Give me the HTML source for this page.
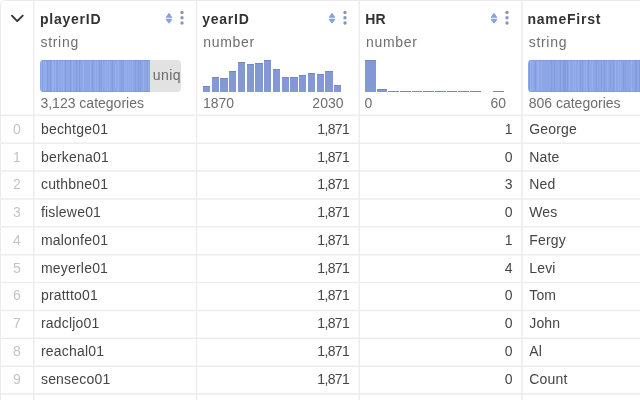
<!DOCTYPE html>
<html><head><meta charset="utf-8">
<style>
html,body{margin:0;padding:0;background:#fff;width:640px;height:400px;overflow:hidden;}
body{font-family:"Liberation Sans",sans-serif;font-size:14px;position:relative;}
#w{position:absolute;left:0;top:0;width:640px;height:400px;will-change:transform;}
.a{position:absolute;}
.t{position:absolute;white-space:nowrap;line-height:16px;}
.name{font-weight:bold;color:#333;letter-spacing:0.75px;}
.type{color:#6e6e6e;letter-spacing:0.7px;}
.sum{color:#6e6e6e;}
.cell{color:#454545;letter-spacing:0.2px;}
.idx{color:#c4c4c4;text-align:center;width:34px;left:0;}
.num{color:#454545;text-align:right;letter-spacing:-0.6px;}
.bar{position:absolute;background:#8299d6;box-shadow:inset 0 1px 0 #7687c0;}
.cat{position:absolute;border-radius:4px;overflow:hidden;}
</style></head><body><div id="w">
<div class="a" style="left:0;top:0;width:700px;height:500px;border-left:1px solid #ebebeb;border-top:1px solid #ebebeb;border-top-left-radius:5px;box-sizing:border-box;"></div>
<svg class="a" style="left:0;top:0" width="640" height="400" viewBox="0 0 640 400"><line x1="33.75" y1="0" x2="33.75" y2="400" stroke="#ededed" stroke-width="1.5"/><line x1="196.50" y1="0" x2="196.50" y2="400" stroke="#ededed" stroke-width="1.5"/><line x1="359.25" y1="0" x2="359.25" y2="400" stroke="#ededed" stroke-width="1.5"/><line x1="522.00" y1="0" x2="522.00" y2="400" stroke="#ededed" stroke-width="1.5"/><line x1="0" y1="115.30" x2="640" y2="115.30" stroke="#ededed" stroke-width="1.5"/><line x1="0" y1="143.17" x2="640" y2="143.17" stroke="#ededed" stroke-width="1.5"/><line x1="0" y1="171.04" x2="640" y2="171.04" stroke="#ededed" stroke-width="1.5"/><line x1="0" y1="198.91" x2="640" y2="198.91" stroke="#ededed" stroke-width="1.5"/><line x1="0" y1="226.78" x2="640" y2="226.78" stroke="#ededed" stroke-width="1.5"/><line x1="0" y1="254.65" x2="640" y2="254.65" stroke="#ededed" stroke-width="1.5"/><line x1="0" y1="282.52" x2="640" y2="282.52" stroke="#ededed" stroke-width="1.5"/><line x1="0" y1="310.39" x2="640" y2="310.39" stroke="#ededed" stroke-width="1.5"/><line x1="0" y1="338.26" x2="640" y2="338.26" stroke="#ededed" stroke-width="1.5"/><line x1="0" y1="366.13" x2="640" y2="366.13" stroke="#ededed" stroke-width="1.5"/><line x1="0" y1="394.00" x2="640" y2="394.00" stroke="#ededed" stroke-width="1.5"/></svg>
<svg class="a" style="left:0;top:0" width="34" height="40" viewBox="0 0 34 40"><path d="M11.9 15.7 L17.25 21.05 L22.7 15.6" fill="none" stroke="#333" stroke-width="1.9" stroke-linecap="round" stroke-linejoin="round"/></svg>
<div class="t name" style="left:40.00px;top:10.9px;letter-spacing:0.75px">playerID</div>
<div class="t type" style="left:40.45px;top:33.6px">string</div>
<svg class="a" style="left:164.90px;top:10px" width="8" height="16" viewBox="0 0 8 16"><path d="M4 3.6 L6.6 7.2 L1.4 7.2 Z M1.4 9.4 L6.6 9.4 L4 12.9 Z" fill="#86a2e3" stroke="#86a2e3" stroke-width="1.1" stroke-linejoin="round"/></svg>
<svg class="a" style="left:178.90px;top:8px" width="6" height="20" viewBox="0 0 6 20"><circle cx="3" cy="4.5" r="1.7" fill="#8c95b0"/><circle cx="3" cy="9.75" r="1.7" fill="#8797c8"/><circle cx="3" cy="15" r="1.7" fill="#8c95b0"/></svg>
<div class="t name" style="left:202.20px;top:10.9px;letter-spacing:0.75px">yearID</div>
<div class="t type" style="left:203.20px;top:33.6px">number</div>
<svg class="a" style="left:327.65px;top:10px" width="8" height="16" viewBox="0 0 8 16"><path d="M4 3.6 L6.6 7.2 L1.4 7.2 Z M1.4 9.4 L6.6 9.4 L4 12.9 Z" fill="#86a2e3" stroke="#86a2e3" stroke-width="1.1" stroke-linejoin="round"/></svg>
<svg class="a" style="left:341.65px;top:8px" width="6" height="20" viewBox="0 0 6 20"><circle cx="3" cy="4.5" r="1.7" fill="#8c95b0"/><circle cx="3" cy="9.75" r="1.7" fill="#8797c8"/><circle cx="3" cy="15" r="1.7" fill="#8c95b0"/></svg>
<div class="t name" style="left:365.20px;top:10.9px;letter-spacing:0.2px">HR</div>
<div class="t type" style="left:365.95px;top:33.6px">number</div>
<svg class="a" style="left:490.40px;top:10px" width="8" height="16" viewBox="0 0 8 16"><path d="M4 3.6 L6.6 7.2 L1.4 7.2 Z M1.4 9.4 L6.6 9.4 L4 12.9 Z" fill="#86a2e3" stroke="#86a2e3" stroke-width="1.1" stroke-linejoin="round"/></svg>
<svg class="a" style="left:504.40px;top:8px" width="6" height="20" viewBox="0 0 6 20"><circle cx="3" cy="4.5" r="1.7" fill="#8c95b0"/><circle cx="3" cy="9.75" r="1.7" fill="#8797c8"/><circle cx="3" cy="15" r="1.7" fill="#8c95b0"/></svg>
<div class="t name" style="left:527.50px;top:10.9px;letter-spacing:0.75px">nameFirst</div>
<div class="t type" style="left:528.70px;top:33.6px">string</div>
<div class="cat" style="left:40px;top:59.6px;width:141px;height:32px;background:#e2e2e2"><svg class="a" style="left:0;top:0" width="110" height="32" viewBox="0 0 110 32" shape-rendering="crispEdges"><rect width="110" height="32" fill="#8ca6e6"/><rect x="0.5" y="0" width="1" height="32" fill="#9db6f5" opacity="0.55"/><rect x="2.0" y="0" width="1" height="32" fill="#7b93d3" opacity="0.55"/><rect x="3.0" y="0" width="1" height="32" fill="#9db6f5" opacity="0.55"/><rect x="5.0" y="0" width="1" height="32" fill="#9db6f5" opacity="0.55"/><rect x="7.0" y="0" width="1" height="32" fill="#7b93d3" opacity="0.55"/><rect x="9.5" y="0" width="1" height="32" fill="#7b93d3" opacity="0.55"/><rect x="11.5" y="0" width="1" height="32" fill="#9db6f5" opacity="0.55"/><rect x="12.5" y="0" width="1" height="32" fill="#9db6f5" opacity="0.55"/><rect x="14.5" y="0" width="1" height="32" fill="#9db6f5" opacity="0.55"/><rect x="17.0" y="0" width="1" height="32" fill="#7b93d3" opacity="0.55"/><rect x="18.0" y="0" width="1" height="32" fill="#9db6f5" opacity="0.55"/><rect x="21.0" y="0" width="1" height="32" fill="#9db6f5" opacity="0.55"/><rect x="23.0" y="0" width="1" height="32" fill="#9db6f5" opacity="0.55"/><rect x="25.0" y="0" width="1" height="32" fill="#7b93d3" opacity="0.55"/><rect x="29.5" y="0" width="1" height="32" fill="#7b93d3" opacity="0.55"/><rect x="32.0" y="0" width="1" height="32" fill="#9db6f5" opacity="0.55"/><rect x="35.5" y="0" width="1" height="32" fill="#7b93d3" opacity="0.55"/><rect x="39.0" y="0" width="1" height="32" fill="#7b93d3" opacity="0.55"/><rect x="43.0" y="0" width="1" height="32" fill="#9db6f5" opacity="0.55"/><rect x="49.5" y="0" width="1" height="32" fill="#9db6f5" opacity="0.55"/><rect x="51.5" y="0" width="1" height="32" fill="#7b93d3" opacity="0.55"/><rect x="54.5" y="0" width="1" height="32" fill="#9db6f5" opacity="0.55"/><rect x="56.5" y="0" width="1" height="32" fill="#9db6f5" opacity="0.55"/><rect x="58.5" y="0" width="1" height="32" fill="#7b93d3" opacity="0.55"/><rect x="61.0" y="0" width="1" height="32" fill="#7b93d3" opacity="0.55"/><rect x="62.0" y="0" width="1" height="32" fill="#9db6f5" opacity="0.55"/><rect x="65.0" y="0" width="1" height="32" fill="#9db6f5" opacity="0.55"/><rect x="67.0" y="0" width="1" height="32" fill="#9db6f5" opacity="0.55"/><rect x="69.0" y="0" width="1" height="32" fill="#9db6f5" opacity="0.55"/><rect x="72.0" y="0" width="1" height="32" fill="#7b93d3" opacity="0.55"/><rect x="75.0" y="0" width="1" height="32" fill="#9db6f5" opacity="0.55"/><rect x="77.0" y="0" width="1" height="32" fill="#9db6f5" opacity="0.55"/><rect x="78.0" y="0" width="1" height="32" fill="#9db6f5" opacity="0.55"/><rect x="80.5" y="0" width="1" height="32" fill="#7b93d3" opacity="0.55"/><rect x="82.5" y="0" width="1" height="32" fill="#7b93d3" opacity="0.55"/><rect x="83.5" y="0" width="1" height="32" fill="#9db6f5" opacity="0.55"/><rect x="85.5" y="0" width="1" height="32" fill="#9db6f5" opacity="0.55"/><rect x="88.0" y="0" width="1" height="32" fill="#9db6f5" opacity="0.55"/><rect x="90.0" y="0" width="1" height="32" fill="#9db6f5" opacity="0.55"/><rect x="91.5" y="0" width="1" height="32" fill="#9db6f5" opacity="0.55"/><rect x="95.0" y="0" width="1" height="32" fill="#7b93d3" opacity="0.55"/><rect x="97.5" y="0" width="1" height="32" fill="#7b93d3" opacity="0.55"/><rect x="100.0" y="0" width="1" height="32" fill="#7b93d3" opacity="0.55"/><rect x="102.5" y="0" width="1" height="32" fill="#9db6f5" opacity="0.55"/><rect x="107.0" y="0" width="1" height="32" fill="#7b93d3" opacity="0.55"/><rect x="108.0" y="0" width="1" height="32" fill="#9db6f5" opacity="0.55"/><rect x="0" y="0" width="110" height="1" fill="#7b90cc" opacity="0.5"/><rect x="0" y="31" width="110" height="1" fill="#7b90cc" opacity="0.5"/></svg></div>
<div class="t sum" style="left:152.7px;top:66.8px;color:#6a6a6a;letter-spacing:0.5px">uniq</div>
<div class="t sum" style="left:40.45px;top:95.0px">3,123 categories</div>
<div class="bar" style="left:202.75px;top:86px;width:7.3px;height:5.90px"></div>
<div class="bar" style="left:211.50px;top:76.5px;width:7.3px;height:15.40px"></div>
<div class="bar" style="left:220.25px;top:77.9px;width:7.3px;height:14.00px"></div>
<div class="bar" style="left:229.00px;top:70.6px;width:7.3px;height:21.30px"></div>
<div class="bar" style="left:237.75px;top:61.9px;width:7.3px;height:30.00px"></div>
<div class="bar" style="left:246.50px;top:64px;width:7.3px;height:27.90px"></div>
<div class="bar" style="left:255.25px;top:62.9px;width:7.3px;height:29.00px"></div>
<div class="bar" style="left:264.00px;top:60px;width:7.3px;height:31.90px"></div>
<div class="bar" style="left:272.75px;top:69.4px;width:7.3px;height:22.50px"></div>
<div class="bar" style="left:281.50px;top:76.9px;width:7.3px;height:15.00px"></div>
<div class="bar" style="left:290.25px;top:76.5px;width:7.3px;height:15.40px"></div>
<div class="bar" style="left:299.00px;top:75px;width:7.3px;height:16.90px"></div>
<div class="bar" style="left:307.75px;top:73.1px;width:7.3px;height:18.80px"></div>
<div class="bar" style="left:316.50px;top:74px;width:7.3px;height:17.90px"></div>
<div class="bar" style="left:325.25px;top:71.25px;width:7.3px;height:20.65px"></div>
<div class="bar" style="left:334.00px;top:85.4px;width:7.3px;height:6.50px"></div>
<div class="t sum" style="left:203px;top:95.0px">1870</div>
<div class="t sum" style="left:243px;width:100.5px;text-align:right;top:95.0px">2030</div>
<div class="bar" style="left:365.00px;top:60px;width:10.5px;height:31.90px"></div>
<div class="bar" style="left:376.67px;top:89px;width:10.5px;height:2.90px"></div>
<div class="bar" style="left:388.33px;top:90.8px;width:10.5px;height:1.10px"></div>
<div class="bar" style="left:400.00px;top:90.8px;width:10.5px;height:1.10px"></div>
<div class="bar" style="left:411.67px;top:90.8px;width:10.5px;height:1.10px"></div>
<div class="bar" style="left:423.33px;top:90.8px;width:10.5px;height:1.10px"></div>
<div class="bar" style="left:435.00px;top:90.8px;width:10.5px;height:1.10px"></div>
<div class="bar" style="left:446.67px;top:90.8px;width:10.5px;height:1.10px"></div>
<div class="bar" style="left:458.33px;top:90.8px;width:10.5px;height:1.10px"></div>
<div class="bar" style="left:470.00px;top:90.8px;width:10.5px;height:1.10px"></div>
<div class="bar" style="left:493.33px;top:90.8px;width:10.5px;height:1.10px"></div>
<div class="t sum" style="left:364.5px;top:95.0px">0</div>
<div class="t sum" style="left:406px;width:100px;text-align:right;top:95.0px">60</div>
<div class="cat" style="left:527.8px;top:59.6px;width:200px;height:32px"><svg class="a" style="left:0;top:0" width="200" height="32" viewBox="0 0 200 32" shape-rendering="crispEdges"><rect width="200" height="32" fill="#8ca6e6"/><rect x="0.5" y="0" width="1" height="32" fill="#7b93d3" opacity="0.55"/><rect x="1.5" y="0" width="1" height="32" fill="#9db6f5" opacity="0.55"/><rect x="3.5" y="0" width="1" height="32" fill="#9db6f5" opacity="0.55"/><rect x="6.5" y="0" width="1" height="32" fill="#7b93d3" opacity="0.55"/><rect x="8.5" y="0" width="1" height="32" fill="#9db6f5" opacity="0.55"/><rect x="10.0" y="0" width="1" height="32" fill="#9db6f5" opacity="0.55"/><rect x="12.5" y="0" width="1" height="32" fill="#9db6f5" opacity="0.55"/><rect x="22.5" y="0" width="1" height="32" fill="#7b93d3" opacity="0.55"/><rect x="26.0" y="0" width="1" height="32" fill="#7b93d3" opacity="0.55"/><rect x="32.0" y="0" width="1" height="32" fill="#7b93d3" opacity="0.55"/><rect x="34.5" y="0" width="1" height="32" fill="#7b93d3" opacity="0.55"/><rect x="36.0" y="0" width="1" height="32" fill="#7b93d3" opacity="0.55"/><rect x="37.0" y="0" width="1" height="32" fill="#7b93d3" opacity="0.55"/><rect x="38.5" y="0" width="1" height="32" fill="#7b93d3" opacity="0.55"/><rect x="41.0" y="0" width="1" height="32" fill="#9db6f5" opacity="0.55"/><rect x="45.0" y="0" width="1" height="32" fill="#9db6f5" opacity="0.55"/><rect x="47.0" y="0" width="1" height="32" fill="#9db6f5" opacity="0.55"/><rect x="50.0" y="0" width="1" height="32" fill="#9db6f5" opacity="0.55"/><rect x="52.0" y="0" width="1" height="32" fill="#7b93d3" opacity="0.55"/><rect x="54.0" y="0" width="1" height="32" fill="#7b93d3" opacity="0.55"/><rect x="56.0" y="0" width="1" height="32" fill="#9db6f5" opacity="0.55"/><rect x="58.0" y="0" width="1" height="32" fill="#9db6f5" opacity="0.55"/><rect x="60.0" y="0" width="1" height="32" fill="#7b93d3" opacity="0.55"/><rect x="61.5" y="0" width="1" height="32" fill="#9db6f5" opacity="0.55"/><rect x="63.5" y="0" width="1" height="32" fill="#9db6f5" opacity="0.55"/><rect x="67.5" y="0" width="1" height="32" fill="#7b93d3" opacity="0.55"/><rect x="72.5" y="0" width="1" height="32" fill="#7b93d3" opacity="0.55"/><rect x="75.5" y="0" width="1" height="32" fill="#7b93d3" opacity="0.55"/><rect x="78.5" y="0" width="1" height="32" fill="#9db6f5" opacity="0.55"/><rect x="82.0" y="0" width="1" height="32" fill="#7b93d3" opacity="0.55"/><rect x="84.5" y="0" width="1" height="32" fill="#7b93d3" opacity="0.55"/><rect x="86.5" y="0" width="1" height="32" fill="#9db6f5" opacity="0.55"/><rect x="89.5" y="0" width="1" height="32" fill="#9db6f5" opacity="0.55"/><rect x="92.0" y="0" width="1" height="32" fill="#9db6f5" opacity="0.55"/><rect x="95.0" y="0" width="1" height="32" fill="#7b93d3" opacity="0.55"/><rect x="97.0" y="0" width="1" height="32" fill="#7b93d3" opacity="0.55"/><rect x="103.0" y="0" width="1" height="32" fill="#9db6f5" opacity="0.55"/><rect x="106.5" y="0" width="1" height="32" fill="#7b93d3" opacity="0.55"/><rect x="107.5" y="0" width="1" height="32" fill="#7b93d3" opacity="0.55"/><rect x="110.5" y="0" width="1" height="32" fill="#7b93d3" opacity="0.55"/><rect x="113.0" y="0" width="1" height="32" fill="#9db6f5" opacity="0.55"/><rect x="115.5" y="0" width="1" height="32" fill="#9db6f5" opacity="0.55"/><rect x="117.0" y="0" width="1" height="32" fill="#7b93d3" opacity="0.55"/><rect x="118.0" y="0" width="1" height="32" fill="#9db6f5" opacity="0.55"/><rect x="121.0" y="0" width="1" height="32" fill="#7b93d3" opacity="0.55"/><rect x="122.0" y="0" width="1" height="32" fill="#7b93d3" opacity="0.55"/><rect x="123.5" y="0" width="1" height="32" fill="#7b93d3" opacity="0.55"/><rect x="124.5" y="0" width="1" height="32" fill="#7b93d3" opacity="0.55"/><rect x="128.5" y="0" width="1" height="32" fill="#7b93d3" opacity="0.55"/><rect x="130.5" y="0" width="1" height="32" fill="#9db6f5" opacity="0.55"/><rect x="132.0" y="0" width="1" height="32" fill="#9db6f5" opacity="0.55"/><rect x="134.5" y="0" width="1" height="32" fill="#9db6f5" opacity="0.55"/><rect x="136.5" y="0" width="1" height="32" fill="#7b93d3" opacity="0.55"/><rect x="138.0" y="0" width="1" height="32" fill="#7b93d3" opacity="0.55"/><rect x="139.0" y="0" width="1" height="32" fill="#9db6f5" opacity="0.55"/><rect x="141.5" y="0" width="1" height="32" fill="#7b93d3" opacity="0.55"/><rect x="144.5" y="0" width="1" height="32" fill="#7b93d3" opacity="0.55"/><rect x="146.5" y="0" width="1" height="32" fill="#7b93d3" opacity="0.55"/><rect x="148.5" y="0" width="1" height="32" fill="#9db6f5" opacity="0.55"/><rect x="151.0" y="0" width="1" height="32" fill="#9db6f5" opacity="0.55"/><rect x="153.0" y="0" width="1" height="32" fill="#9db6f5" opacity="0.55"/><rect x="157.5" y="0" width="1" height="32" fill="#9db6f5" opacity="0.55"/><rect x="158.5" y="0" width="1" height="32" fill="#9db6f5" opacity="0.55"/><rect x="160.5" y="0" width="1" height="32" fill="#7b93d3" opacity="0.55"/><rect x="161.5" y="0" width="1" height="32" fill="#9db6f5" opacity="0.55"/><rect x="163.0" y="0" width="1" height="32" fill="#7b93d3" opacity="0.55"/><rect x="165.0" y="0" width="1" height="32" fill="#7b93d3" opacity="0.55"/><rect x="167.0" y="0" width="1" height="32" fill="#7b93d3" opacity="0.55"/><rect x="171.5" y="0" width="1" height="32" fill="#7b93d3" opacity="0.55"/><rect x="177.0" y="0" width="1" height="32" fill="#7b93d3" opacity="0.55"/><rect x="180.0" y="0" width="1" height="32" fill="#7b93d3" opacity="0.55"/><rect x="181.0" y="0" width="1" height="32" fill="#7b93d3" opacity="0.55"/><rect x="182.5" y="0" width="1" height="32" fill="#7b93d3" opacity="0.55"/><rect x="188.5" y="0" width="1" height="32" fill="#7b93d3" opacity="0.55"/><rect x="190.0" y="0" width="1" height="32" fill="#7b93d3" opacity="0.55"/><rect x="192.0" y="0" width="1" height="32" fill="#9db6f5" opacity="0.55"/><rect x="193.0" y="0" width="1" height="32" fill="#9db6f5" opacity="0.55"/><rect x="195.5" y="0" width="1" height="32" fill="#9db6f5" opacity="0.55"/><rect x="198.0" y="0" width="1" height="32" fill="#9db6f5" opacity="0.55"/><rect x="0" y="0" width="200" height="1" fill="#7b90cc" opacity="0.5"/><rect x="0" y="31" width="200" height="1" fill="#7b90cc" opacity="0.5"/></svg></div>
<div class="t sum" style="left:528.70px;top:95.0px">806 categories</div>
<div class="t idx" style="top:120.90px">0</div>
<div class="t cell" style="left:40.95px;top:120.90px">bechtge01</div>
<div class="t num" style="left:196.50px;width:152.75px;top:120.90px">1,871</div>
<div class="t num" style="left:359.25px;width:152.75px;top:120.90px">1</div>
<div class="t cell" style="left:529.20px;top:120.90px">George</div>
<div class="t idx" style="top:148.65px">1</div>
<div class="t cell" style="left:40.95px;top:148.65px">berkena01</div>
<div class="t num" style="left:196.50px;width:152.75px;top:148.65px">1,871</div>
<div class="t num" style="left:359.25px;width:152.75px;top:148.65px">0</div>
<div class="t cell" style="left:529.20px;top:148.65px">Nate</div>
<div class="t idx" style="top:176.40px">2</div>
<div class="t cell" style="left:40.95px;top:176.40px">cuthbne01</div>
<div class="t num" style="left:196.50px;width:152.75px;top:176.40px">1,871</div>
<div class="t num" style="left:359.25px;width:152.75px;top:176.40px">3</div>
<div class="t cell" style="left:529.20px;top:176.40px">Ned</div>
<div class="t idx" style="top:204.15px">3</div>
<div class="t cell" style="left:40.95px;top:204.15px">fislewe01</div>
<div class="t num" style="left:196.50px;width:152.75px;top:204.15px">1,871</div>
<div class="t num" style="left:359.25px;width:152.75px;top:204.15px">0</div>
<div class="t cell" style="left:529.20px;top:204.15px">Wes</div>
<div class="t idx" style="top:231.90px">4</div>
<div class="t cell" style="left:40.95px;top:231.90px">malonfe01</div>
<div class="t num" style="left:196.50px;width:152.75px;top:231.90px">1,871</div>
<div class="t num" style="left:359.25px;width:152.75px;top:231.90px">1</div>
<div class="t cell" style="left:529.20px;top:231.90px">Fergy</div>
<div class="t idx" style="top:259.65px">5</div>
<div class="t cell" style="left:40.95px;top:259.65px">meyerle01</div>
<div class="t num" style="left:196.50px;width:152.75px;top:259.65px">1,871</div>
<div class="t num" style="left:359.25px;width:152.75px;top:259.65px">4</div>
<div class="t cell" style="left:529.20px;top:259.65px">Levi</div>
<div class="t idx" style="top:287.40px">6</div>
<div class="t cell" style="left:40.95px;top:287.40px">prattto01</div>
<div class="t num" style="left:196.50px;width:152.75px;top:287.40px">1,871</div>
<div class="t num" style="left:359.25px;width:152.75px;top:287.40px">0</div>
<div class="t cell" style="left:529.20px;top:287.40px">Tom</div>
<div class="t idx" style="top:315.15px">7</div>
<div class="t cell" style="left:40.95px;top:315.15px">radcljo01</div>
<div class="t num" style="left:196.50px;width:152.75px;top:315.15px">1,871</div>
<div class="t num" style="left:359.25px;width:152.75px;top:315.15px">0</div>
<div class="t cell" style="left:529.20px;top:315.15px">John</div>
<div class="t idx" style="top:342.90px">8</div>
<div class="t cell" style="left:40.95px;top:342.90px">reachal01</div>
<div class="t num" style="left:196.50px;width:152.75px;top:342.90px">1,871</div>
<div class="t num" style="left:359.25px;width:152.75px;top:342.90px">0</div>
<div class="t cell" style="left:529.20px;top:342.90px">Al</div>
<div class="t idx" style="top:370.65px">9</div>
<div class="t cell" style="left:40.95px;top:370.65px">senseco01</div>
<div class="t num" style="left:196.50px;width:152.75px;top:370.65px">1,871</div>
<div class="t num" style="left:359.25px;width:152.75px;top:370.65px">0</div>
<div class="t cell" style="left:529.20px;top:370.65px">Count</div>
</div></body></html>
